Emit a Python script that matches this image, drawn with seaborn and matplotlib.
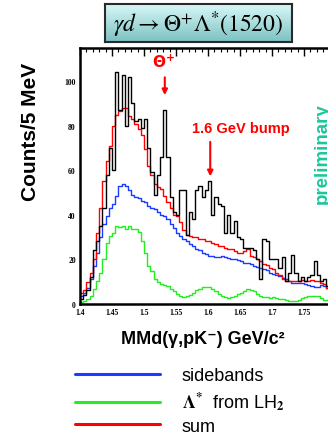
import numpy as np
import pandas as pd
import matplotlib
matplotlib.use("Agg")
import matplotlib.pyplot as plt
from matplotlib.lines import Line2D
from matplotlib.ticker import MultipleLocator
from matplotlib.colors import LinearSegmentedColormap
import seaborn as sns

# ---- data (counts per 5 MeV bin, starting at 1.400 GeV) ----
bin_start = 1.40
bin_width = 0.005
data_counts = [2, 4, 6, 12, 24, 28, 35, 43, 58, 70, 60, 104, 87, 103, 80, 102, 90, 82, 83, 79,
               83, 70, 59, 49, 58, 66, 87, 66, 48, 41, 40, 51, 51, 31, 41, 38, 51, 53, 48, 51,
               55, 40, 48, 45, 44, 32, 40, 32, 37, 30, 29, 25, 25, 25, 24, 20, 11, 29, 28, 20,
               20, 20, 16, 21, 10, 14, 22, 14, 10, 12, 10, 12, 13, 19, 13, 10, 11, 8]
sum_counts = [5, 6, 9.6, 13.6, 20, 32, 43, 55, 64, 70.7, 80, 85, 86.7, 88, 88, 84.5, 83, 80.7, 78.5, 76,
              69.5, 62, 58, 54, 52.5, 51.5, 48.5, 45.5, 43, 40, 39.5, 36.5, 33, 31, 30.5, 30, 30, 29, 29, 28,
              28, 27.5, 27, 26, 26, 25, 24.5, 24.5, 23.5, 23, 23, 23.5, 24.5, 21.5, 21, 20, 19, 18, 17.5, 16,
              15.5, 14, 13, 11, 10, 10, 10.3, 10, 10, 10.5, 10.3, 10, 10.5, 10.3, 10.3, 9.5, 9, 7]
side_counts = [3.6, 5, 7, 11, 17, 23, 30, 36, 39.5, 43, 45, 48.5, 53, 54, 53, 51, 49, 48, 47.5, 46,
               45.5, 44, 43, 42.5, 41, 40, 39.5, 38, 36, 34, 32, 30.5, 29, 28, 27, 26, 24.5, 24, 23, 22.5,
               21.5, 21.5, 21, 21, 21.5, 21, 20.5, 20, 20, 19.5, 19, 18.5, 18.5, 18, 17, 16.5, 16, 15.5, 15, 14,
               13.5, 13, 12.5, 11.5, 11, 10, 9.5, 9.5, 9.5, 9.5, 9, 8.5, 8, 7.5, 7.5, 8.5, 8, 7]
lam_counts = [0.6, 1.3, 2, 3.6, 6.6, 10.3, 14, 20, 27.5, 30.5, 32, 35, 34.3, 35, 33.5, 35, 33.5, 33.5, 32.4, 28.3,
              23, 17, 14.8, 11, 9.6, 8.8, 8.4, 7.8, 6.6, 5.8, 4.5, 3.6, 3, 3.3, 4, 5, 6, 6.8, 7.3, 7.6,
              7.3, 6.6, 5.5, 4.5, 3.5, 2.8, 2.5, 2.8, 3.5, 4.3, 5, 5.8, 6.6, 6.2, 5.5, 4.3, 3.5, 3, 2.8, 2.5,
              2.8, 2.5, 2, 2.2, 1.5, 1.3, 1, 1.3, 1.8, 2.5, 3, 3.3, 3.6, 3.6, 3.3, 2.5, 1.8, 1.5]

series_names = ["sidebands", r"$\mathbf{\Lambda^{*}}$  from LH$_\mathbf{2}$", "sum", "data"]
series_colors = ["#1a3cff", "#22ee22", "#ff0000", "#000000"]
y_ticks = [0, 20, 40, 60, 80, 100]
x_ticks = [1.4, 1.45, 1.5, 1.55, 1.6, 1.65, 1.7, 1.75]
x_tick_labels = ["1.4", "1.45", "1.5", "1.55", "1.6", "1.65", "1.7", "1.75"]

nb = len(data_counts)
edges = bin_start + bin_width * np.arange(nb + 1)

sns.set_theme(style="white")
plt.rcParams["font.family"] = ["Liberation Sans", "DejaVu Sans"]
plt.rcParams["mathtext.fontset"] = "stix"
plt.rcParams["text.color"] = "black"
plt.rcParams["xtick.color"] = "black"
plt.rcParams["ytick.color"] = "black"

fig = plt.figure(figsize=(3.28, 4.35), dpi=100)
W, H = 328, 435
ax_l, ax_r, ax_t, ax_b = 80, 336, 49.3, 304.7
ax = fig.add_axes([ax_l / W, 1 - ax_b / H, (ax_r - ax_l) / W, (ax_b - ax_t) / H])

handles = []
for name, counts, col in zip(series_names, [side_counts, lam_counts, sum_counts, data_counts], series_colors):
    df = pd.DataFrame({"x": edges, "y": list(counts) + [counts[-1]]})
    sns.lineplot(data=df, x="x", y="y", drawstyle="steps-post", estimator=None, sort=False,
                 color=col, linewidth=1.0, ax=ax)
    handles.append(Line2D([], [], color=col, linewidth=2.2, label=name))

ax.set_xlim(1.4, 1.8)
ax.set_ylim(0, 114.8)
ax.set_xlabel("")
ax.set_ylabel("")
ax.set_yticks(y_ticks)
ax.set_xticks(x_ticks)
ax.set_xticklabels(x_tick_labels)
ax.xaxis.set_minor_locator(MultipleLocator(0.01))
ax.yaxis.set_minor_locator(MultipleLocator(5))
ax.tick_params(which="both", direction="in", top=True, right=True, colors="black")
ax.tick_params(which="major", length=6, width=1.0, pad=3)
ax.tick_params(which="minor", length=3, width=0.8)
for lab in ax.get_xticklabels() + ax.get_yticklabels():
    lab.set_fontfamily("Liberation Serif")
    lab.set_fontweight("bold")
    lab.set_fontsize(5.5)
for sp in ax.spines.values():
    sp.set_linewidth(1.8)
    sp.set_color("black")

# title box with gradient fill
bx0, bx1, by0, by1 = 105, 292, 5, 43
tax = fig.add_axes([bx0 / W, 1 - by1 / H, (bx1 - bx0) / W, (by1 - by0) / H])
grad = np.linspace(0, 1, 64).reshape(-1, 1)
cmap = LinearSegmentedColormap.from_list("box", ["#d9f7f7", "#7cc2c2"])
tax.imshow(grad, aspect="auto", cmap=cmap, extent=[0, 1, 0, 1], origin="upper")
tax.set_xticks([])
tax.set_yticks([])
for sp in tax.spines.values():
    sp.set_linewidth(1.5)
    sp.set_color("#2a2a2a")
tax.text(0.5, 0.47, r"$\gamma d \rightarrow \Theta^{+}\Lambda^{*}(1520)$", transform=tax.transAxes,
         ha="center", va="center", fontsize=17, color="black")

# axis labels
fig.text(30 / W, 1 - 132 / H, "Counts/5 MeV", rotation=90, ha="center", va="center",
         fontsize=15, fontweight="bold", color="black")
fig.text(203 / W, 1 - 340 / H, "MMd(γ,pK⁻) GeV/c²",
         ha="center", va="center", fontsize=13, fontweight="bold", color="black",
         family=["Liberation Sans", "DejaVu Sans"])

# annotations
ax.annotate("", xy=(1.5325, 92.5), xytext=(1.5325, 103),
            arrowprops=dict(arrowstyle="-|>", color="red", lw=1.5, mutation_scale=8))
ax.text(1.5305, 105, r"$\mathbf{\Theta^{+}}$", color="red", ha="center", va="bottom",
        fontsize=11, math_fontfamily="dejavusans")
ax.annotate("", xy=(1.6035, 56), xytext=(1.6035, 74),
            arrowprops=dict(arrowstyle="-|>", color="red", lw=1.5, mutation_scale=8))
ax.text(1.651, 76, "1.6 GeV bump", color="red", ha="center", va="bottom",
        fontsize=10.5, fontweight="bold")
ax.text(1.779, 68, "preliminary", color="#1bc79b", rotation=90, ha="center", va="center",
        fontsize=13.5, fontweight="bold", clip_on=False)

# legend
leg = fig.legend(handles=handles[:3], loc="upper left", bbox_to_anchor=(59 / W, 1 - 352 / H),
                 frameon=False, handlelength=4.7, handletextpad=1.2,
                 labelspacing=0.3, prop={"weight": "normal", "size": 13})

fig.savefig("out.png", dpi=100)
